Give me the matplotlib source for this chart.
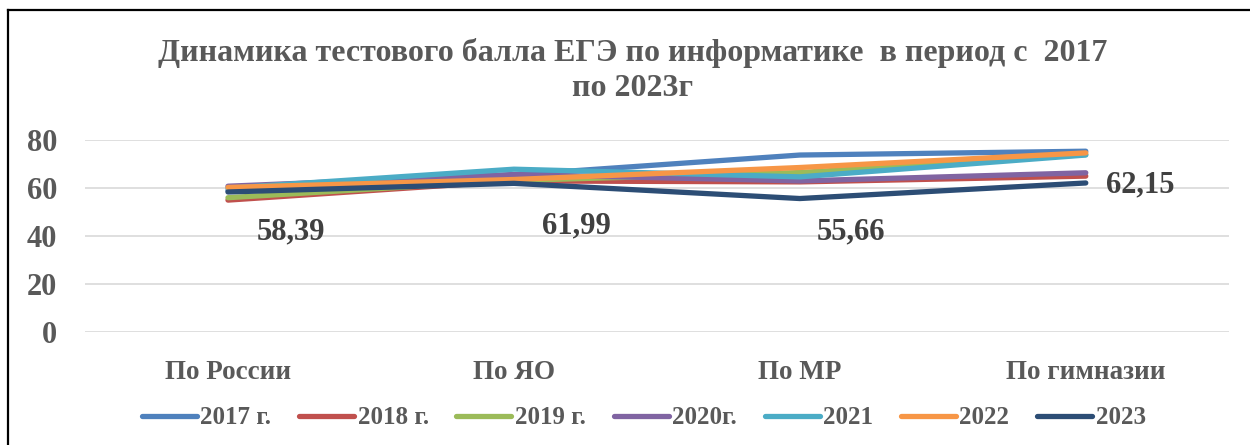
import matplotlib.pyplot as plt
import numpy as np
from matplotlib.lines import Line2D

categories = ['По России', 'По ЯО', 'По МР', 'По гимназии']
years = ['2017 г.', '2018 г.', '2019 г.', '2020г.', '2021', '2022', '2023']

s2017 = [59.0, 65.5, 73.8, 75.4]
s2018 = [55.0, 63.0, 62.6, 65.0]
s2019 = [56.0, 63.2, 66.5, 74.0]
s2020 = [60.8, 65.7, 63.0, 66.4]
s2021 = [60.0, 67.9, 64.7, 73.8]
s2022 = [60.3, 63.6, 68.6, 74.7]
s2023 = [58.39, 61.99, 55.66, 62.15]

series = [s2017, s2018, s2019, s2020, s2021, s2022, s2023]
colors = ['#4F81BD', '#C0504D', '#9BBB59', '#8064A2', '#4BACC6', '#F79646', '#2C4D75']

# data labels of 2023, placed by hand like in the original
label_pos = [(0.22, 41.7), (1.22, 44.2), (2.18, 41.7), (3.19, 61.3)]

plt.rcParams['font.family'] = ['Liberation Serif', 'DejaVu Serif']
plt.rcParams['font.weight'] = 'bold'
grey = '#595959'

fig = plt.figure(figsize=(12.5, 4.45), dpi=100)
ax = fig.add_axes([0.068, 0.254, 0.915, 0.431])

x = np.arange(len(categories))
for vals, c, name in zip(series, colors, years):
    ax.plot(x, vals, color=c, lw=3.8, solid_capstyle='round', label=name)

for (px, py), v in zip(label_pos, s2023):
    ax.text(px, py, '{:.2f}'.format(v).replace('.', ','), ha='center', va='center',
            fontsize=22, fontweight='bold', color='#404040')

ax.set_xlim(-0.5, 3.5)
ax.set_ylim(0, 80)
ax.set_yticks([0, 20, 40, 60, 80])
ax.set_xticks(x)
ax.set_xticklabels(categories)
ax.tick_params(axis='y', length=0, labelsize=22, labelcolor=grey, pad=20)
ax.tick_params(axis='x', length=0, labelsize=19.5, labelcolor=grey, pad=20)
ax.grid(axis='y', color='#d9d9d9', lw=1.2)
ax.set_axisbelow(True)
for sp in ax.spines.values():
    sp.set_visible(False)

fig.text(0.506, 0.88, 'Динамика тестового балла ЕГЭ по информатике  в период с  2017',
         ha='center', va='center', fontsize=23, fontweight='bold', color=grey)
fig.text(0.506, 0.80, 'по 2023г', ha='center', va='center',
         fontsize=23, fontweight='bold', color=grey)

leg = fig.legend(loc='center', bbox_to_anchor=(0.515, 0.061), ncol=7, frameon=False,
                 fontsize=18, handlelength=2.2, handletextpad=0.15, columnspacing=1.1)
for t in leg.get_texts():
    t.set_color(grey)

# frame of the original picture (top and left edges)
fig.add_artist(Line2D([0.0064, 0.0064], [0, 0.977], color='black', lw=1.6))
fig.add_artist(Line2D([0.0064, 1.0], [0.977, 0.977], color='black', lw=1.6))

fig.savefig('out.png', dpi=100)
